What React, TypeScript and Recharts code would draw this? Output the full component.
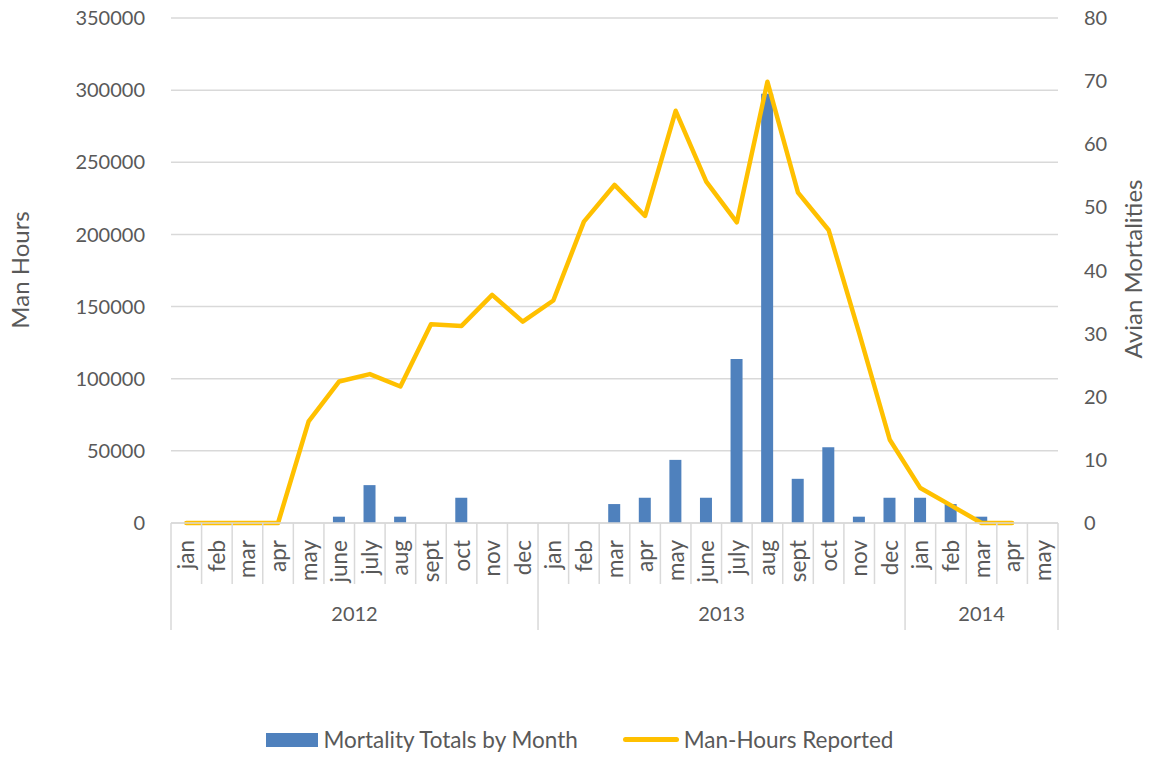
import React from 'react';
import { ComposedChart, Bar, Line, XAxis, YAxis, CartesianGrid, Legend, Label } from 'recharts';

const months = [
  'jan', 'feb', 'mar', 'apr', 'may', 'june', 'july', 'aug', 'sept', 'oct', 'nov', 'dec',
  'jan', 'feb', 'mar', 'apr', 'may', 'june', 'july', 'aug', 'sept', 'oct', 'nov', 'dec',
  'jan', 'feb', 'mar', 'apr', 'may',
];
const years = [
  '2012', '2012', '2012', '2012', '2012', '2012', '2012', '2012', '2012', '2012', '2012', '2012',
  '2013', '2013', '2013', '2013', '2013', '2013', '2013', '2013', '2013', '2013', '2013', '2013',
  '2014', '2014', '2014', '2014', '2014',
];
// avian mortalities (right axis)
const mortalities = [
  null, null, null, null, null, 1, 6, 1, null, 4, null, null,
  null, null, 3, 4, 10, 4, 26, 68, 7, 12, 1, 4,
  4, 3, 1, null, null,
];
// man-hours reported (left axis)
const manHours = [
  0, 0, 0, 0, 70400, 98100, 103200, 94600, 137800, 136600, 158100, 139600,
  154200, 208900, 234300, 212800, 285700, 236600, 208400, 305800, 229000, 203100, 131600, 57700,
  24200, 12200, 0, 0, null,
];
const leftTicks = [0, 50000, 100000, 150000, 200000, 250000, 300000, 350000];
const rightTicks = [0, 10, 20, 30, 40, 50, 60, 70, 80];

const data = months.map((m, i) => ({
  key: `${years[i]}-${m}-${i}`,
  month: m,
  year: years[i],
  mortality: mortalities[i],
  hours: manHours[i],
}));

const W = 1149;
const H = 757;
const LEFT_W = 171;
const RIGHT_W = 91;
const BW = (W - LEFT_W - RIGHT_W) / months.length;
const TXT = '#595959';
const GRID = '#d9d9d9';
const FONT = 'Lato, "Open Sans", sans-serif';

const MonthTick = (props: any) => {
  const { x, y, payload } = props;
  const i = payload.index;
  const left = x - BW / 2;
  const first = i === 0 || years[i] !== years[i - 1];
  const last = i === months.length - 1;
  const count = years.filter((yr) => yr === years[i]).length;
  return (
    <g>
      <line x1={left} x2={left} y1={y} y2={first ? y + 107 : y + 61} stroke={GRID} strokeWidth={1.5} />
      {last && <line x1={x + BW / 2} x2={x + BW / 2} y1={y} y2={y + 107} stroke={GRID} strokeWidth={1.5} />}
      <text
        transform={`translate(${x + 8},${y + 17}) rotate(-90)`}
        textAnchor="end"
        fill={TXT}
        fontSize={22.5}
        fontFamily={FONT}
      >
        {months[i]}
      </text>
      {first && (
        <text x={left + (count * BW) / 2} y={y + 98} textAnchor="middle" fill={TXT} fontSize={20} fontFamily={FONT}>
          {years[i]}
        </text>
      )}
    </g>
  );
};

const LegendContent = () => (
  <div
    style={{
      height: 124,
      display: 'flex',
      justifyContent: 'center',
      alignItems: 'flex-end',
      fontFamily: FONT,
      fontSize: 22.5,
      color: TXT,
      boxSizing: 'border-box',
      paddingBottom: 4,
      paddingLeft: 10,
    }}
  >
    <div style={{ display: 'flex', alignItems: 'center', marginRight: 45 }}>
      <span style={{ display: 'inline-block', width: 52, height: 14, background: '#4f81bd', marginRight: 6 }} />
      <span>Mortality Totals by Month</span>
    </div>
    <div style={{ display: 'flex', alignItems: 'center' }}>
      <span style={{ display: 'inline-block', width: 56, height: 5, borderRadius: 3, background: '#ffc000', marginRight: 5 }} />
      <span>Man-Hours Reported</span>
    </div>
  </div>
);

export default function App() {
  return (
    <div style={{ position: 'absolute', left: 0, top: 0, width: W, height: H, background: '#fff' }}>
      <ComposedChart width={W} height={H} data={data} margin={{ top: 18, right: 0, bottom: 0, left: 0 }} barSize={12}>
        <CartesianGrid vertical={false} stroke={GRID} strokeWidth={1.5} yAxisId="left" />
        <XAxis
          dataKey="key"
          height={110}
          tickSize={0}
          tickMargin={0}
          tickLine={false}
          axisLine={{ stroke: GRID, strokeWidth: 1.5 }}
          interval={0}
          tick={<MonthTick />}
        />
        <YAxis
          yAxisId="left"
          orientation="left"
          width={LEFT_W}
          domain={[0, 350000]}
          ticks={leftTicks}
          axisLine={false}
          tickLine={false}
          tickMargin={20}
          tick={{ fill: TXT, fontSize: 20, fontFamily: FONT }}
        >
          <Label
            content={() => (
              <text transform="translate(29,270) rotate(-90)" textAnchor="middle" fill={TXT} fontSize={24} fontFamily={FONT}>
                Man Hours
              </text>
            )}
          />
        </YAxis>
        <YAxis
          yAxisId="right"
          orientation="right"
          width={RIGHT_W}
          domain={[0, 80]}
          ticks={rightTicks}
          axisLine={false}
          tickLine={false}
          tickMargin={20}
          tick={{ fill: TXT, fontSize: 20, fontFamily: FONT }}
        >
          <Label
            content={() => (
              <text transform="translate(1142,269) rotate(-90)" textAnchor="middle" fill={TXT} fontSize={24} fontFamily={FONT}>
                Avian Mortalities
              </text>
            )}
          />
        </YAxis>
        <Legend verticalAlign="bottom" wrapperStyle={{ height: 124, width: W, left: 0 }} content={<LegendContent />} />
        <Bar yAxisId="right" dataKey="mortality" name="Mortality Totals by Month" fill="#4f81bd" isAnimationActive={false} />
        <Line
          yAxisId="left"
          dataKey="hours"
          name="Man-Hours Reported"
          type="linear"
          stroke="#ffc000"
          strokeWidth={4.5}
          strokeLinejoin="round"
          strokeLinecap="round"
          dot={false}
          activeDot={false}
          isAnimationActive={false}
        />
      </ComposedChart>
    </div>
  );
}
